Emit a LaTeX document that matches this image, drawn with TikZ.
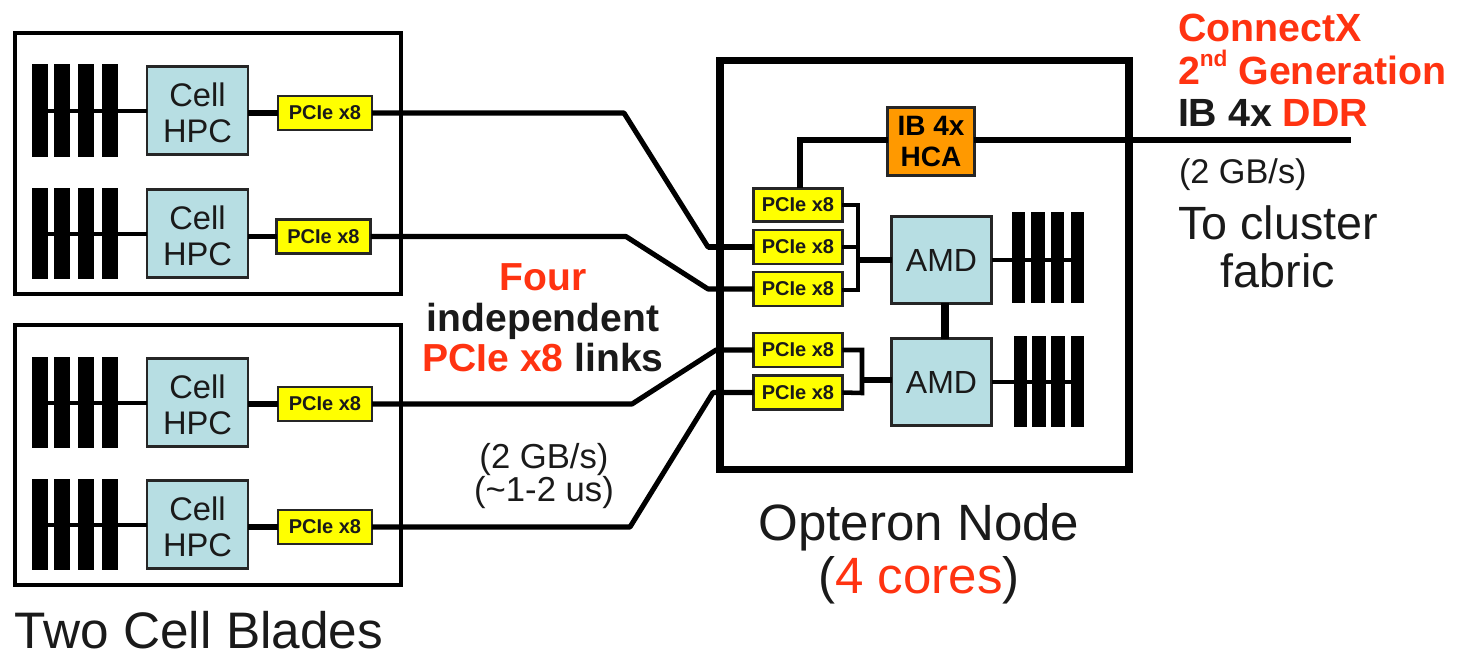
\documentclass[tikz,border=0pt]{standalone}
\usepackage{fontspec}
\setmainfont{Liberation Sans}
\definecolor{cellblue}{HTML}{B7DEE3}
\definecolor{pcieyellow}{HTML}{FFFF00}
\definecolor{hcaorange}{HTML}{FF9900}
\definecolor{redtxt}{HTML}{FF3311}
\definecolor{inkt}{HTML}{1A1A1A}
\newcommand{\fs}[2]{\fontsize{#1}{#2}\selectfont}
\tikzset{
 frameA/.style={draw=black,line width=3.4pt,fill=none,inner sep=0pt,outer sep=0pt},
 frameB/.style={draw=black,line width=5.6pt,fill=none,inner sep=0pt,outer sep=0pt},
 box/.style={rectangle,draw=black!85,line width=1.8pt,inner sep=0pt,outer sep=0pt,align=center,text=inkt},
 cell/.style={box,fill=cellblue,minimum width=76pt,minimum height=66pt,font=\fs{24.5}{27},text height=54pt,text depth=6.5pt},
 pcie/.style={box,fill=pcieyellow,minimum width=70.5pt,minimum height=25.5pt,font=\fs{15}{16}\bfseries},
 pcieq/.style={pcie,minimum width=66.5pt},
 amd/.style={box,fill=cellblue,minimum width=75pt,minimum height=65pt,font=\fs{24}{28}},
 hca/.style={box,fill=hcaorange,minimum width=65pt,minimum height=51pt,font=\fs{21}{23.5}\bfseries,text=black},
 bar/.style={rectangle,fill=black,inner sep=0pt,outer sep=0pt,minimum width=#1},
 wire/.style={draw=black,line width=3.8pt},
 thick wire/.style={draw=black,line width=5pt},
 thin wire/.style={draw=black,line width=3pt},
 lab/.style={inner sep=0pt,outer sep=0pt,align=center,text=inkt},
}
% \membank{prefix}{x1}{x2}{x3}{x4}{width}{ytop}{ybot}
\newcommand{\membank}[8]{%
 \foreach \n/\xx in {1/#2,2/#3,3/#4,4/#5}{
  \node[bar=#6*0.75pt,minimum height={(#8-#7)*0.75pt}] (#1\n) at (\xx,{(#7+#8)/2}) {};
 }
}
\begin{document}
\begin{tikzpicture}[x=0.75pt,y=-0.75pt]
\useasboundingbox (0,0) rectangle (1459,654);
\fill[white] (0,0) rectangle (1459,654);
% frames
\node[frameA,minimum width=289.5pt,minimum height=196pt] (bladeA) at (208,163.5) {};
\node[frameA,minimum width=289.5pt,minimum height=195pt] (bladeB) at (208,455) {};
\node[frameB,minimum width=307pt,minimum height=307pt] (opteron) at (924.5,265) {};
% memory
\membank{ma}{40}{62}{86}{110}{16}{64}{157}
\membank{mb}{40}{62}{86}{110}{16}{188}{279}
\membank{mc}{40}{62}{86}{110}{16}{357}{448}
\membank{md}{40}{62}{86}{110}{16}{479}{570}
\membank{me}{1018.5}{1038}{1057.5}{1077.5}{13.5}{212}{303}
\membank{mf}{1020.5}{1039}{1058}{1077.5}{13.5}{336}{427}
% cells
\node[cell] (ca) at (197.5,110.5) {Cell\\HPC};
\node[cell] (cb) at (197.5,233.5) {Cell\\HPC};
\node[cell] (cc) at (197.5,402.5) {Cell\\HPC};
\node[cell] (cd) at (197.5,524.5) {Cell\\HPC};
% pcie left
\node[pcie] (pa) at (325,113) {PCIe x8};
\node[pcie] (pb) at (323.5,236.5) {PCIe x8};
\node[pcie] (pc) at (325,404) {PCIe x8};
\node[pcie] (pd) at (325,527) {PCIe x8};
% pcie right
\node[pcieq,minimum height=25pt] (qa) at (798,205) {PCIe x8};
\node[pcieq] (qb) at (798,247) {PCIe x8};
\node[pcieq] (qc) at (798,289) {PCIe x8};
\node[pcieq] (qd) at (798,350) {PCIe x8};
\node[pcieq] (qe) at (798,392.5) {PCIe x8};
% others
\node[hca] (hca) at (931,141.5) {IB 4x\\HCA};
\node[amd] (aa) at (941.5,260) {AMD};
\node[amd] (ab) at (941.5,382) {AMD};
\coordinate (hcaend) at (1351,140);
\coordinate (j1) at (858,260);
\coordinate (j2) at (862,380);
% wires inside
\foreach \m/\c in {ma/ca,mb/cb,mc/cc,md/cd}{
 \draw[thin wire] (\m1.center |- \c.west) -- (\c.west);
}
\foreach \m/\c in {me/aa,mf/ab}{
 \draw[thin wire] (\c.east) -- (\m4.center |- \c.east);
}
\draw[thick wire] (ca.east |- pa.west) -- (pa.west);
\draw[wire] (cb.east |- pb.west) -- (pb.west);
\draw[wire] (cc.east |- pc.west) -- (pc.west);
\draw[thick wire] (cd.east |- pd.west) -- (pd.west);
% long links
\draw[wire,line join=round] (pa.east) -- (624,113) -- (708,247) -- (qb.west);
\draw[thick wire,line width=5.2pt] (708,247) -- (qb.west);
\draw[wire,line join=round] (pb.east) -- (626,236.5) -- (708,289) -- (qc.west);
\draw[wire,line join=round] (pc.east) -- (632,404) -- (716,350) -- (qd.west);
\draw[wire,line join=round] (pd.east) -- (630,527) -- (713,392.5) -- (qe.west);
% HCA
\draw[thick wire,line width=4.6pt] (qa.north -| 800,188) -- (800,140) -- (hca.west |- 0,140);
\draw[thick wire,line width=4.6pt] (hca.east |- hcaend) -- (hcaend);
% brackets
\draw[wire,line width=3.4pt] (qa.east) -- (858,205) -- (858,290) -- (qc.east |- 0,290);
\draw[thin wire] (qb.east) -- (858,247);
\draw[thick wire] (j1) -- (aa.west |- j1);
\draw[wire,line width=3.4pt] (qd.east) -- (862,350) -- (862,393) -- (qe.east);
\draw[wire] (j2) -- (ab.west |- j2);
\draw[wire,line width=6pt] (aa.south) ++(3.5,0) coordinate (t1) -- (t1 |- ab.north);
% labels
\node[lab,align=none,anchor=base,font=\fs{38.5}{40}] (twocell) at (199,648) {Two Cell Blades};
\node[lab,font=\fs{38.3}{39.5}] (optnode) at (919,553.5) {Opteron Node\\(\textcolor{redtxt}{4 cores})};
\node[lab,font=\fs{29.3}{30.5}\bfseries] (four) at (543,318) {\textcolor{redtxt}{Four}\\independent\\\textcolor{redtxt}{PCIe x8} links};
\node[lab,font=\fs{26}{24}] (rate) at (544,476) {(2 GB/s)\\(\textasciitilde 1-2 us)};
\node[lab,anchor=north west,align=left,font=\fs{29.5}{32}\bfseries] (cx) at (1178,14) {\textcolor{redtxt}{ConnectX}\\\textcolor{redtxt}{2\raisebox{0.45em}{\fs{17}{17}nd} Generation}\\IB 4x \textcolor{redtxt}{DDR}};
\node[lab,anchor=north west,font=\fs{25.7}{28}] (gbs) at (1179,159) {(2 GB/s)};
\node[lab,font=\fs{35}{36}] (tocl) at (1278,247) {To cluster\\fabric};
\end{tikzpicture}
\end{document}
